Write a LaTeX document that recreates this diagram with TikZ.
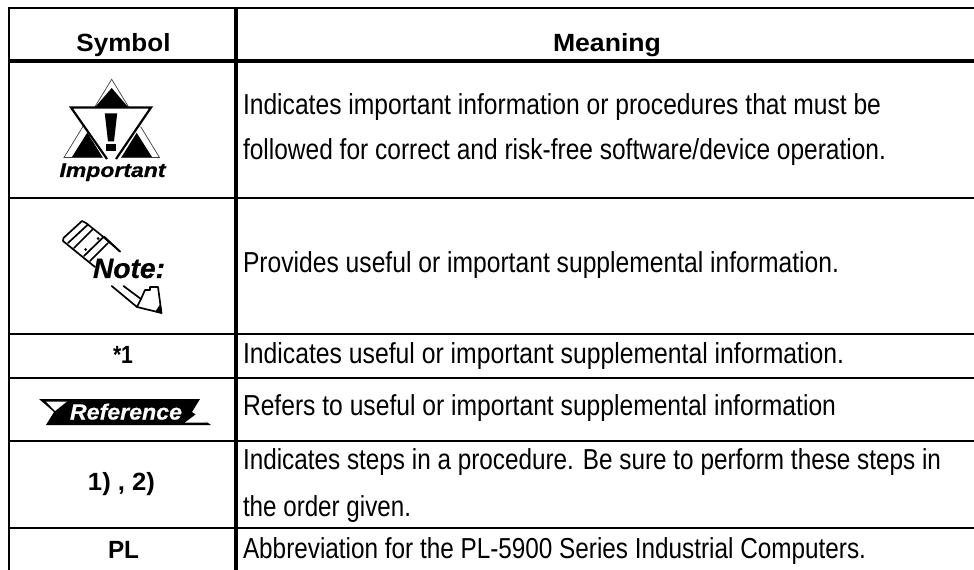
\documentclass[tikz,border=0pt]{standalone}
\usepackage{graphicx}
\usepackage{fontspec}
\setmainfont{Liberation Sans}
\newfontfamily\heavyfont[FakeBold=0.6]{Liberation Sans}
\newcommand{\fitw}[2]{\resizebox{#1bp}{\height}{#2}}
\tikzset{
  body/.style={anchor=base west,inner sep=0pt,outer sep=0pt,font=\fontsize{29}{29}\selectfont},
  head/.style={anchor=base,inner sep=0pt,outer sep=0pt,font=\fontsize{25}{25}\selectfont\bfseries},
  rule/.style={line width=#1bp,black},
  icontext/.style={anchor=base,inner sep=0pt,outer sep=0pt},
  inkfill/.style={fill=black,draw=none},
  pen/.style={line width=1.7bp,black,line join=round,line cap=round}
}
\begin{document}
\begin{tikzpicture}[x=1bp,y=-1bp]
\useasboundingbox (0,0) rectangle (974,570);
\fill[white] (0,0) rectangle (974,570);
% grid
\draw[rule=2.4] (8,8) -- (974,8);
\draw[rule=3.2] (8,61) -- (974,61);
\draw[rule=2.2] (8,198) -- (974,198);
\draw[rule=2.2] (8,334) -- (974,334);
\draw[rule=2.8] (8,378) -- (974,378);
\draw[rule=2.8] (8,441) -- (974,441);
\draw[rule=2.8] (8,528) -- (974,528);
\draw[rule=2.4] (9,7) -- (9,570);
\draw[rule=4.2] (236,7) -- (236,570);
% headers
\node[head] (hsym) at (123.5,52) {\fitw{94}{Symbol}};
\node[head] (hmean) at (607,52) {\fitw{108}{Meaning}};
\node[head] (star) at (123,363) {\fitw{20}{*1}};
\node[head] (steps) at (121.5,490) {\fitw{67}{1) , 2)}};
\node[head] (pl) at (123.5,558) {\fitw{31}{PL}};
% meanings
\node[body] (m1a) at (243,115) {\fitw{638}{Indicates important information or procedures that must be}};
\node[body] (m1b) at (243,159.5) {\fitw{643}{followed for correct and risk-free software/device operation.}};
\node[body] (m2) at (243,273) {\fitw{596}{Provides useful or important supplemental information.}};
\node[body] (m3) at (243,363) {\fitw{601}{Indicates useful or important supplemental information.}};
\node[body] (m4) at (243,415) {\fitw{593}{Refers to useful or important supplemental information}};
\node[body] (m5a) at (243,469.5) {\fitw{698}{Indicates steps in a procedure. Be sure to perform these steps in}};
\node[body] (m5b) at (243,516) {\fitw{168}{the order given.}};
\node[body] (m6) at (243,558) {\fitw{623}{Abbreviation for the PL-5900 Series Industrial Computers.}};
% Important icon
\draw[line width=.7bp,black!75] (111.7,79.3) -- (64,157.5) -- (159.5,157.5) -- cycle;
\fill[inkfill] (111.7,88) -- (95,107.3) -- (128.3,107.3) -- cycle;
\fill[inkfill] (72,157) -- (104,157) -- (88.3,131) -- cycle;
\fill[inkfill] (119,157) -- (152,157) -- (135.5,131) -- cycle;
\fill[white] (72,108) -- (152,108) -- (112,172) -- cycle;
\draw[line width=2.2bp,black,line join=miter] (107,159) -- (71,107.5) -- (151,107.5) -- (116,159);
\fill[inkfill] (104.8,113.5) -- (117.2,113.5) -- (114,141.5) -- (108,141.5) -- cycle;
\fill[inkfill] (106,144) rectangle (116,151.5);
\node[icontext,font=\fontsize{20}{20}\selectfont\heavyfont\bfseries\itshape] (imp) at (112.5,177) {\fitw{106}{Important}};
% Note icon
\draw[pen,fill=white] (63.5,238) -- (82,221) -- (86,223) -- (101,235) -- (120,251.5) (63.5,238) -- (63,241) -- (95,267);
\draw[pen] (68,243) -- (88,224.5);
\draw[pen] (74,248) -- (93,229);
\draw[pen] (84,256) -- (104,236.5) -- (120,251.5);
\draw[pen] (90,261) -- (108,243);
\fill[inkfill] (98,238.5) circle (1.5);
\fill[inkfill] (85.5,249.5) circle (1.5);
\node[icontext,font=\fontsize{28}{28}\selectfont\heavyfont\bfseries\itshape] (note) at (129,278) {\fitw{72}{Note:}};
\draw[pen] (111.7,286) -- (137,307) -- (141,299) -- (123.5,286);
\draw[pen] (141,299) -- (145,290) -- (150,290) -- (150,287) -- (158,287) -- (161.5,313) -- (137,307);
\fill[inkfill] (161.8,313.5) -- (155,311.8) -- (160.5,304) -- cycle;
% Reference icon
\fill[inkfill] (39,399) -- (200,399) -- (192,412) -- (211,425) -- (46,425) -- (54,412) -- cycle;
\fill[white] (46,401.5) -- (67,401.5) -- (55,411) -- cycle;
\fill[white] (185,422.5) -- (207,422.5) -- (197,413.5) -- cycle;
\node[icontext,text=white,font=\fontsize{22}{22}\selectfont\heavyfont\bfseries\itshape] (ref) at (126,419.5) {\fitw{112}{Reference}};
\end{tikzpicture}
\end{document}
